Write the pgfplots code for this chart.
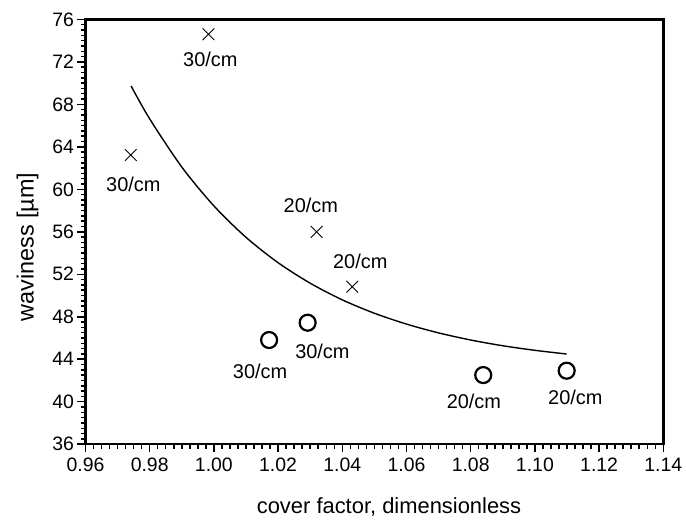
\documentclass[border=0pt]{standalone}
\usepackage{fontspec}
\setmainfont{Liberation Sans}
\usepackage{pgfplots}
\pgfplotsset{compat=1.18}
\newcommand{\tfont}{\fontsize{19.5}{21}\selectfont}
\begin{document}
\begin{tikzpicture}
\useasboundingbox (-85.5bp,-76.8bp) rectangle (600.5bp,444.2bp);
\begin{axis}[
  at={(0,0)}, anchor=south west,
  scale only axis, width=577.8bp, height=424.8bp,
  xmin=0.96, xmax=1.14, ymin=36, ymax=76,
  xtick={0.96,0.98,1.00,1.02,1.04,1.06,1.08,1.10,1.12,1.14},
  ytick={36,40,44,48,52,56,60,64,68,72,76},
  minor x tick num=7, minor y tick num=7,
  tick align=outside, tick pos=left,
  major tick length=8bp, minor tick length=4.5bp,
  tick style={black, line width=1.5bp},
  axis line style={line width=2.4bp},
  /pgf/number format/assume math mode=true,
  xticklabel={\tfont\pgfmathprintnumber[assume math mode=true,fixed,fixed zerofill,precision=2]{\tick}},
  yticklabel={\tfont\pgfmathprintnumber[assume math mode=true,fixed,precision=0]{\tick}},
  xticklabel shift=2bp,
  xlabel={\fontsize{22}{24}\selectfont cover factor, dimensionless},
  ylabel={\fontsize{23.5}{25}\selectfont waviness [µm]},
  xlabel style={at={(axis description cs:0.5253,-0.162)}, anchor=base},
  ylabel style={at={(axis description cs:-0.1004,0.464)}, anchor=center},
  clip=false,
]
% fitted curve
\addplot[black, line width=1.4bp, smooth] coordinates {
(0.9742,69.73) (0.98,66.63) (0.99,62.10) (1.00,58.44) (1.01,55.48)
(1.02,53.09) (1.03,51.16) (1.04,49.59) (1.05,48.33) (1.06,47.31)
(1.07,46.48) (1.08,45.81) (1.09,45.27) (1.10,44.84) (1.1099,44.49)
};
% crosses
\addplot[only marks, mark=x, mark size=8.3bp, mark options={line width=0.9bp, black}] coordinates {
(0.9983,74.60) (0.9741,63.23) (1.0320,56.00) (1.0431,50.83)
};
% circles
\addplot[only marks, mark=o, mark size=8bp, mark options={line width=2.2bp, black}] coordinates {
(1.0172,45.81) (1.0292,47.44) (1.0839,42.51) (1.1099,42.92)
};
\begin{scope}[every node/.style={font=\fontsize{20}{22}\selectfont, anchor=base, inner sep=0pt}]
\node at (axis cs:0.9989,71.54) {30/cm};
\node at (axis cs:0.9749,59.77) {30/cm};
\node at (axis cs:1.0302,57.80) {20/cm};
\node at (axis cs:1.0456,52.56) {20/cm};
\node at (axis cs:1.0144,42.20) {30/cm};
\node at (axis cs:1.0338,44.09) {30/cm};
\node at (axis cs:1.0810,39.38) {20/cm};
\node at (axis cs:1.1126,39.78) {20/cm};
\end{scope}
\end{axis}
\end{tikzpicture}
\end{document}
